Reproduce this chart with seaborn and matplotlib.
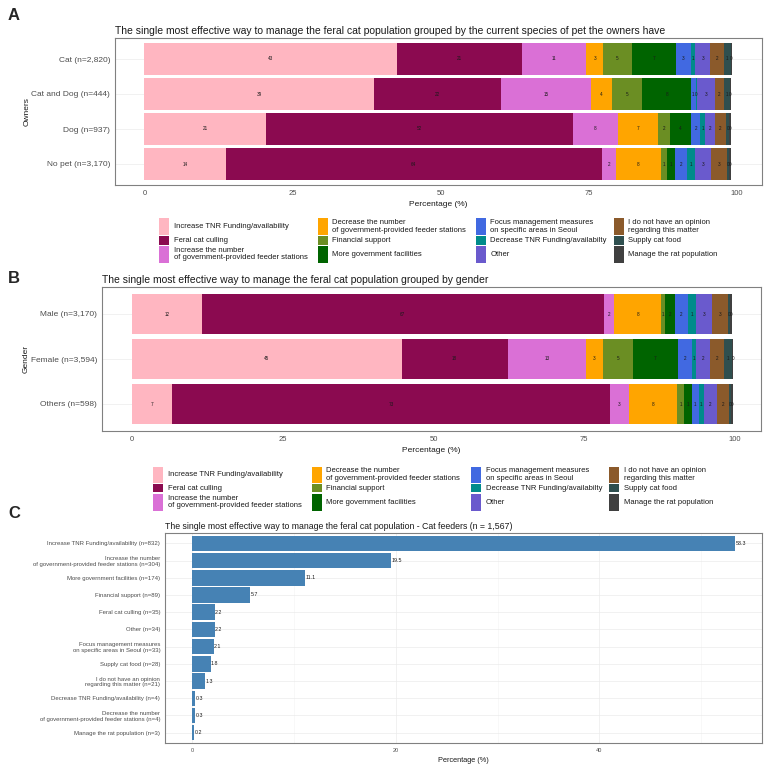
import numpy as np
import pandas as pd
import matplotlib
matplotlib.use("Agg")
import matplotlib.pyplot as plt
import seaborn as sns
from matplotlib.patches import Rectangle
from matplotlib.ticker import MultipleLocator

sns.set_theme(style="white")
plt.rcParams["font.family"] = ["Liberation Sans", "DejaVu Sans"]

# ---- data ----
options = [
    "Increase TNR Funding/availability",
    "Feral cat culling",
    "Increase the number\nof government-provided feeder stations",
    "Decrease the number\nof government-provided feeder stations",
    "Financial support",
    "More government facilities",
    "Focus management measures\non specific areas in Seoul",
    "Decrease TNR Funding/availabilty",
    "Other",
    "I do not have an opinion\nregarding this matter",
    "Supply cat food",
    "Manage the rat population",
]
option_colors = ["#FFB6C1", "#8B0A50", "#DA70D6", "#FFA500", "#6B8E23", "#006400",
                 "#4169E1", "#008B8B", "#6A5ACD", "#8B5A2B", "#2F4F4F", "#404040"]

owners = ["Cat (n=2,820)", "Cat and Dog (n=444)", "Dog (n=937)", "No pet (n=3,170)"]
cat_vals = [42.6, 21.1, 10.9, 2.9, 4.8, 7.4, 2.6, 0.7, 2.6, 2.2, 1.2, 0.3]
catdog_vals = [38.7, 21.6, 15.1, 3.6, 5.1, 8.2, 0.8, 0.3, 2.9, 1.6, 1.0, 0.2]
dog_vals = [20.6, 51.7, 7.6, 6.8, 2.0, 3.6, 1.6, 0.8, 1.6, 2.0, 0.4, 0.4]
nopet_vals = [13.7, 63.6, 2.3, 7.6, 1.0, 1.4, 2.0, 1.4, 2.7, 2.7, 0.4, 0.3]

genders = ["Male (n=3,170)", "Female (n=3,594)", "Others (n=598)"]
male_vals = [11.6, 66.6, 1.7, 7.9, 0.6, 1.6, 2.2, 1.3, 2.7, 2.6, 0.4, 0.3]
female_vals = [44.7, 17.6, 13.0, 2.8, 5.0, 7.4, 2.4, 0.7, 2.2, 2.4, 1.3, 0.2]
others_vals = [6.7, 72.6, 3.1, 8.0, 1.2, 1.2, 1.2, 0.8, 2.2, 2.0, 0.4, 0.3]

feeder_labels = [
    "Increase TNR Funding/availability (n=832)",
    "Increase the number\nof government-provided feeder stations (n=304)",
    "More government facilities (n=174)",
    "Financial support (n=89)",
    "Feral cat culling (n=35)",
    "Other (n=34)",
    "Focus management measures\non specific areas in Seoul (n=33)",
    "Supply cat food (n=28)",
    "I do not have an opinion\nregarding this matter (n=21)",
    "Decrease TNR Funding/availability (n=4)",
    "Decrease the number\nof government-provided feeder stations (n=4)",
    "Manage the rat population (n=3)",
]
feeder_pct = [53.3, 19.5, 11.1, 5.7, 2.2, 2.2, 2.1, 1.8, 1.3, 0.3, 0.3, 0.2]

W, H = 767, 769
fig = plt.figure(figsize=(W / 100, H / 100), dpi=100)


def px_axes(l, t, r, b):
    return fig.add_axes([l / W, 1 - b / H, (r - l) / W, (b - t) / H])


def frame(ax):
    for s in ax.spines.values():
        s.set_color("#808080")
        s.set_linewidth(0.8)
    ax.tick_params(length=2, width=0.5, color="#333333", labelcolor="#4D4D4D", pad=1.5)


def stacked(ax, rows, vals, title, ylabel):
    df = pd.DataFrame([(r, o, v) for r, vs in zip(rows, vals) for o, v in zip(options, vs)],
                      columns=["row", "option", "value"])
    df["cum"] = df.groupby("row", sort=False)["value"].cumsum()
    # layered bars: longest cumulative total first, so each segment shows its own colour
    for opt, col in reversed(list(zip(options, option_colors))):
        sub = df[df["option"] == opt]
        sns.barplot(data=sub, x="cum", y="row", order=rows, orient="h", color=col,
                    saturation=1, width=0.9, linewidth=0, errorbar=None, ax=ax)
    for _, r in df.iterrows():
        ax.text(r["cum"] - r["value"] / 2, rows.index(r["row"]), f"{r['value']:.0f}",
                ha="center", va="center", fontsize=3.3, color="#1a1a1a")
    ax.set_xlim(-4.97, 104.3)
    ax.set_ylim(len(rows) - 1 + 0.6, -0.6)
    ax.set_xticks([0, 25, 50, 75, 100])
    ax.yaxis.grid(True, color="#EBEBEB", lw=0.5)
    ax.set_axisbelow(True)
    frame(ax)
    ax.tick_params(axis="x", labelsize=5.5)
    ax.tick_params(axis="y", labelsize=6)
    ax.set_xlabel("Percentage (%)", fontsize=6, labelpad=3, color="#1a1a1a")
    ax.set_ylabel(ylabel, fontsize=6, labelpad=0.5, color="#1a1a1a")
    ax.set_title(title, loc="left", fontsize=7.45, pad=3, color="#1a1a1a")


def add_legend(col_x, top, row_h):
    # ggplot-style key grid: 3 rows x 4 columns, filled column by column
    for k, (opt, col) in enumerate(zip(options, option_colors)):
        c, r = divmod(k, 3)
        y0 = top + sum(row_h[:r])
        h = row_h[r]
        fig.add_artist(Rectangle((col_x[c] / W, 1 - (y0 + h - 0.5) / H), 10 / W, (h - 1) / H,
                                 transform=fig.transFigure, facecolor=col, edgecolor="none"))
        fig.text((col_x[c] + 14.5) / W, 1 - (y0 + h / 2) / H, opt, fontsize=5.5,
                 va="center", ha="left", linespacing=1.12, color="#1a1a1a")


# ---- Panel A ----
axA = px_axes(115, 38, 762, 185)
stacked(axA, owners, [cat_vals, catdog_vals, dog_vals, nopet_vals],
        "The single most effective way to manage the feral cat population grouped by the current species of pet the owners have",
        "Owners")
add_legend([159, 318, 476, 614], 218, [17.5, 9.5, 18])

# ---- Panel B ----
axB = px_axes(102, 287, 761, 431)
stacked(axB, genders, [male_vals, female_vals, others_vals],
        "The single most effective way to manage the feral cat population grouped by gender",
        "Gender")
add_legend([153, 312, 471, 609], 466, [17.5, 9.5, 18])

# ---- Panel C ----
axC = px_axes(165, 533, 762, 743)
dfc = pd.DataFrame({"label": feeder_labels, "pct": feeder_pct})
sns.barplot(data=dfc, x="pct", y="label", order=feeder_labels, orient="h", color="#4682B4",
            saturation=1, width=0.9, linewidth=0, errorbar=None, ax=axC)
for i, v in enumerate(feeder_pct):
    axC.text(v + 0.05, i, f"{v:.1f}", ha="left", va="center", fontsize=3.8, color="#1a1a1a")
axC.set_xlim(-2.67, 55.97)
axC.set_ylim(len(feeder_labels) - 1 + 0.6, -0.6)
axC.set_xticks([0, 20, 40])
axC.xaxis.set_minor_locator(MultipleLocator(10))
axC.grid(which="major", color="#EBEBEB", lw=0.5)
axC.grid(which="minor", axis="x", color="#F3F3F3", lw=0.4)
axC.set_axisbelow(True)
frame(axC)
axC.tick_params(axis="x", which="minor", length=0)
axC.tick_params(axis="x", labelsize=4)
axC.tick_params(axis="y", labelsize=4.3)
axC.set_xlabel("Percentage (%)", fontsize=5.3, labelpad=3, color="#1a1a1a")
axC.set_ylabel("")
axC.set_title("The single most effective way to manage the feral cat population - Cat feeders (n = 1,567)",
              loc="left", fontsize=6.3, pad=3, color="#1a1a1a")

# panel letters
for letter, y in [("A", 8), ("B", 271), ("C", 506)]:
    fig.text(8 / W, 1 - y / H, letter, fontsize=12, fontweight="bold", va="top", ha="left")

fig.savefig("out.png", dpi=100)
